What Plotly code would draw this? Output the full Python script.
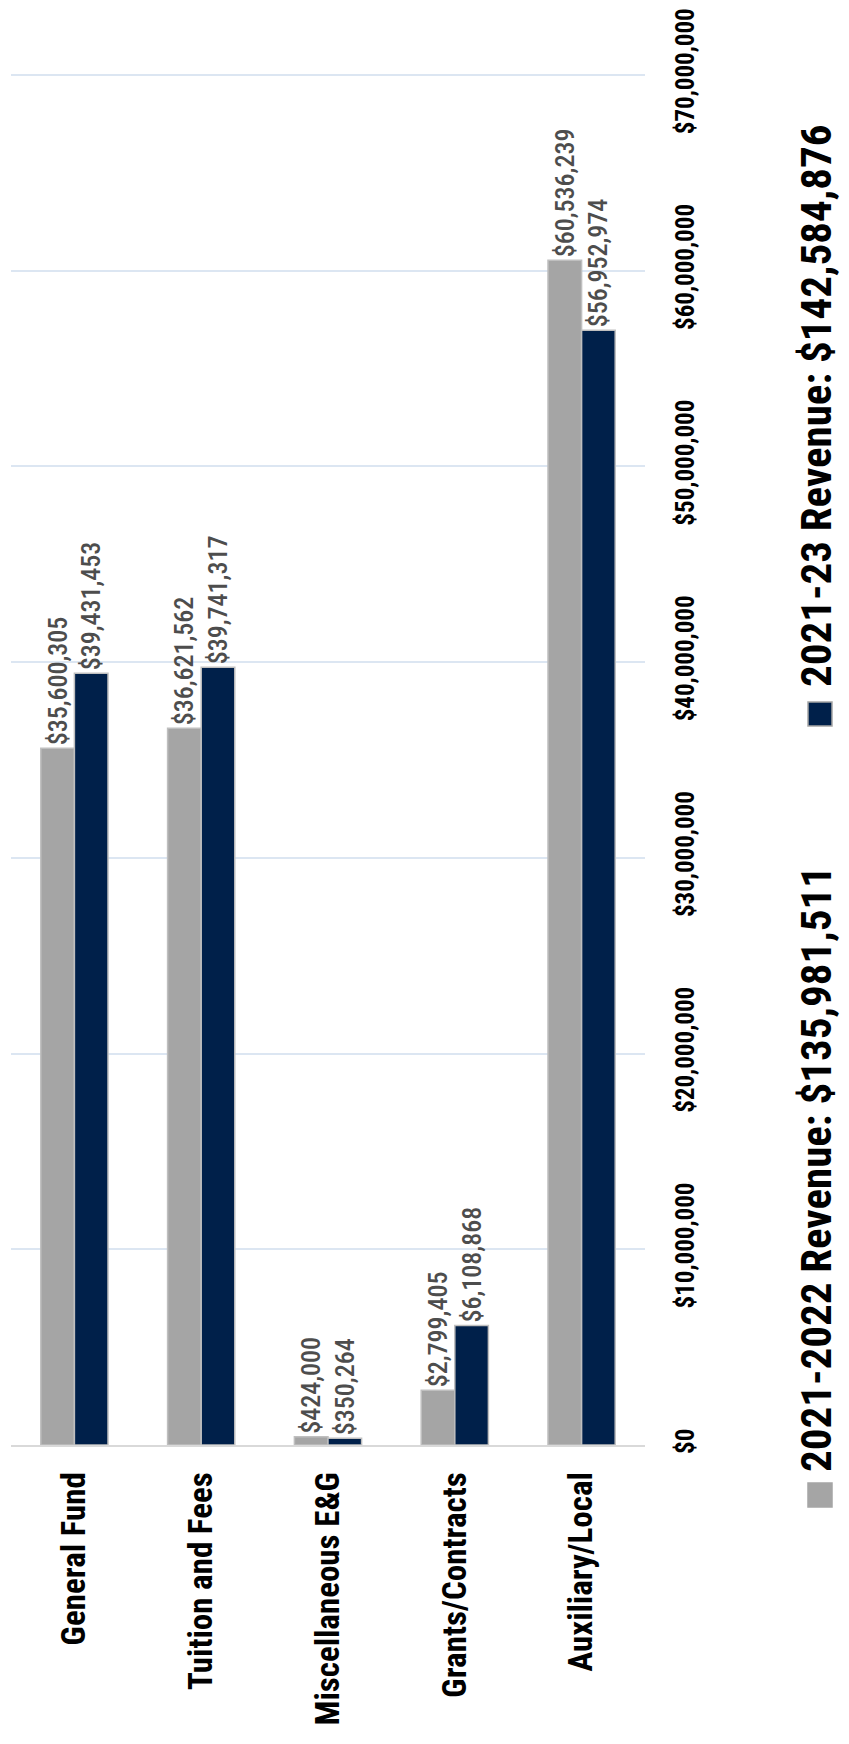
import plotly.graph_objects as go

# Revenue by source, two biennium periods
categories = ["General Fund", "Tuition and Fees", "Miscellaneous E&G",
              "Grants/Contracts", "Auxiliary/Local"]
rev_2021_2022 = [35600305, 36621562, 424000, 2799405, 60536239]
rev_2021_23 = [39431453, 39741317, 350264, 6108868, 56952974]

series_names = ["2021-2022 Revenue: $135,981,511", "2021-23 Revenue: $142,584,876"]
tick_vals = [0, 10000000, 20000000, 30000000, 40000000, 50000000, 60000000, 70000000]
tick_text = ["$0", "$10,000,000", "$20,000,000", "$30,000,000", "$40,000,000",
             "$50,000,000", "$60,000,000", "$70,000,000"]

FONT = "Liberation Sans Narrow, Arial Narrow, Roboto Condensed, Liberation Sans, sans-serif"
GRAY = "#A5A5A5"
NAVY = "#00204A"

W, H = 849, 1744
ML, MR, MT, MB = 11, 204, 73, 299
PW, PH = W - ML - MR, H - MT - MB


def px_x(px):
    return (px - ML) / PW


def px_y(py):
    return (H - MB - py) / PH


fig = go.Figure()
for vals, color in ((rev_2021_2022, GRAY), (rev_2021_23, NAVY)):
    fig.add_trace(go.Bar(
        x=categories, y=vals,
        marker=dict(color=color, line=dict(color="#BFBFBF", width=1.5)),
        text=["${:,}".format(v) for v in vals],
        textposition="outside", textangle=-90,
        textfont=dict(family=FONT, size=26, color="#4D4D4D", weight=500),
        constraintext="none", cliponaxis=False,
        showlegend=False,
    ))

# Legend drawn as rotated text with colour swatches
legend_items = [
    (series_names[0], GRAY, 1507, 1483, 1474),
    (series_names[1], NAVY, 726, 702, 689),
]
shapes = []
annotations = []
for name, color, sq_bottom, sq_top, text_bottom in legend_items:
    shapes.append(dict(type="rect", xref="paper", yref="paper",
                       x0=px_x(808), x1=px_x(832), y0=px_y(sq_bottom), y1=px_y(sq_top),
                       fillcolor=color, line=dict(color="#A5A5A5", width=1.5)))
    annotations.append(dict(text="<b>%s</b>" % name, xref="paper", yref="paper",
                            x=px_x(816), y=px_y(text_bottom), xanchor="center", yanchor="bottom",
                            textangle=-90, showarrow=False,
                            font=dict(family=FONT, size=43, color="#000000")))

fig.update_layout(
    width=W, height=H,
    margin=dict(l=ML, r=MR, t=MT, b=MB, autoexpand=False),
    paper_bgcolor="white", plot_bgcolor="white",
    barmode="group", bargap=0.47, bargroupgap=0,
    shapes=shapes, annotations=annotations,
    xaxis=dict(
        automargin=False,
        tickangle=-90, tickfont=dict(family=FONT, size=33, color="#000000"),
        tickvals=categories, ticktext=["<b>%s</b>" % c for c in categories],
        showline=True, linecolor="#D9D9D9", linewidth=2,
        ticks="", ticklabelstandoff=12, showgrid=False,
    ),
    yaxis=dict(
        automargin=False,
        side="right", range=[0, 70100000],
        tickvals=tick_vals, ticktext=["<b>%s</b>" % t for t in tick_text],
        tickangle=-90, tickfont=dict(family=FONT, size=25, color="#000000"),
        showgrid=True, gridcolor="#DCE6F2", gridwidth=1.5,
        zeroline=False, ticks="", ticklabelstandoff=23,
    ),
)

fig.write_html("out.html")
